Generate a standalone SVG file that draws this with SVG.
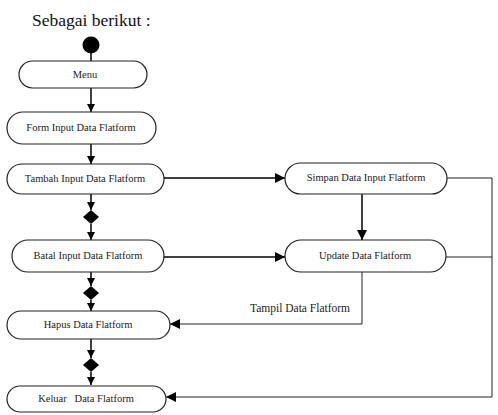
<svg xmlns="http://www.w3.org/2000/svg" width="498" height="415" viewBox="0 0 498 415">
<style>
.n{fill:#fff;stroke:#222;stroke-width:1.2}
.t{font-family:"Liberation Serif","Times New Roman",serif;font-size:10.5px;fill:#222;text-anchor:middle}
.c{fill:none;stroke:#000;stroke-width:1.5}
.b{fill:none;stroke:#222;stroke-width:1}
.d{fill:#000}
</style>
<defs>
<marker id="a" viewBox="0 0 10 10" refX="10" refY="5" markerWidth="8" markerHeight="8" markerUnits="userSpaceOnUse" orient="auto"><path d="M0,0L10,5L0,10z" fill="#000"/></marker>
<marker id="a2" viewBox="0 0 10 10" refX="10" refY="5" markerWidth="10" markerHeight="10" markerUnits="userSpaceOnUse" orient="auto"><path d="M0,0L10,5L0,10z" fill="#000"/></marker>
</defs>
<text x="32" y="26" style="font-family:'Liberation Serif','Times New Roman',serif;font-size:17.5px;fill:#111">Sebagai berikut :</text>
<g id="start"><circle cx="91" cy="45" r="8.5" class="d"/></g>
<g id="connectors">
<line x1="91" y1="52" x2="91" y2="61" class="c"/>
<line x1="91" y1="88" x2="91" y2="112" class="c" marker-end="url(#a)"/>
<line x1="91" y1="144" x2="91" y2="164" class="c" marker-end="url(#a)"/>
<line x1="91" y1="194" x2="91" y2="210" class="c" marker-end="url(#a)"/>
<path d="M91,210L99,217L91,224L83,217z" class="d"/>
<line x1="91" y1="224" x2="91" y2="240" class="c" marker-end="url(#a)"/>
<line x1="91" y1="272" x2="91" y2="286" class="c" marker-end="url(#a)"/>
<path d="M91,286L99,293L91,300L83,293z" class="d"/>
<line x1="91" y1="300" x2="91" y2="311" class="c" marker-end="url(#a)"/>
<line x1="91" y1="339" x2="91" y2="358" class="c" marker-end="url(#a)"/>
<path d="M91,358L99,365L91,372L83,365z" class="d"/>
<line x1="91" y1="372" x2="91" y2="385" class="c" marker-end="url(#a)"/>
<line x1="164" y1="178" x2="285" y2="178" class="c" marker-end="url(#a2)"/>
<line x1="164" y1="257" x2="285" y2="257" class="c" marker-end="url(#a2)"/>
<line x1="362" y1="194" x2="362" y2="240" class="c" marker-end="url(#a2)"/>
<polyline points="362,272 362,324 170,324" class="b" marker-end="url(#a2)"/>
<polyline points="447,178 492,178 492,397 166,397" class="b" marker-end="url(#a2)"/>
<line x1="446" y1="257" x2="492" y2="257" class="b"/>
<text x="300" y="312" class="t" style="font-size:11.5px">Tampil Data Flatform</text>
</g>
<g id="menu"><rect x="19" y="61" width="128" height="27" rx="13.5" class="n"/><text x="85" y="78" class="t">Menu</text></g>
<g id="form"><rect x="7" y="112" width="149" height="32" rx="16" class="n"/><text x="81" y="131" class="t">Form Input Data Flatform</text></g>
<g id="tambah"><rect x="7" y="164" width="157" height="30" rx="15" class="n"/><text x="85" y="182" class="t">Tambah Input Data Flatform</text></g>
<g id="batal"><rect x="12" y="240" width="152" height="32" rx="16" class="n"/><text x="88" y="259" class="t">Batal Input Data Flatform</text></g>
<g id="hapus"><rect x="7" y="311" width="163" height="28" rx="14" class="n"/><text x="88" y="328" class="t">Hapus Data Flatform</text></g>
<g id="keluar"><rect x="7" y="386" width="159" height="26" rx="13" class="n"/><text x="86" y="402" class="t" style="white-space:pre">Keluar   Data Flatform</text></g>
<g id="simpan"><rect x="285" y="163" width="162" height="31" rx="15.5" class="n"/><text x="366" y="181" class="t">Simpan Data Input Flatform</text></g>
<g id="update"><rect x="285" y="240" width="161" height="32" rx="16" class="n"/><text x="365" y="259" class="t">Update Data Flatform</text></g>
</svg>
